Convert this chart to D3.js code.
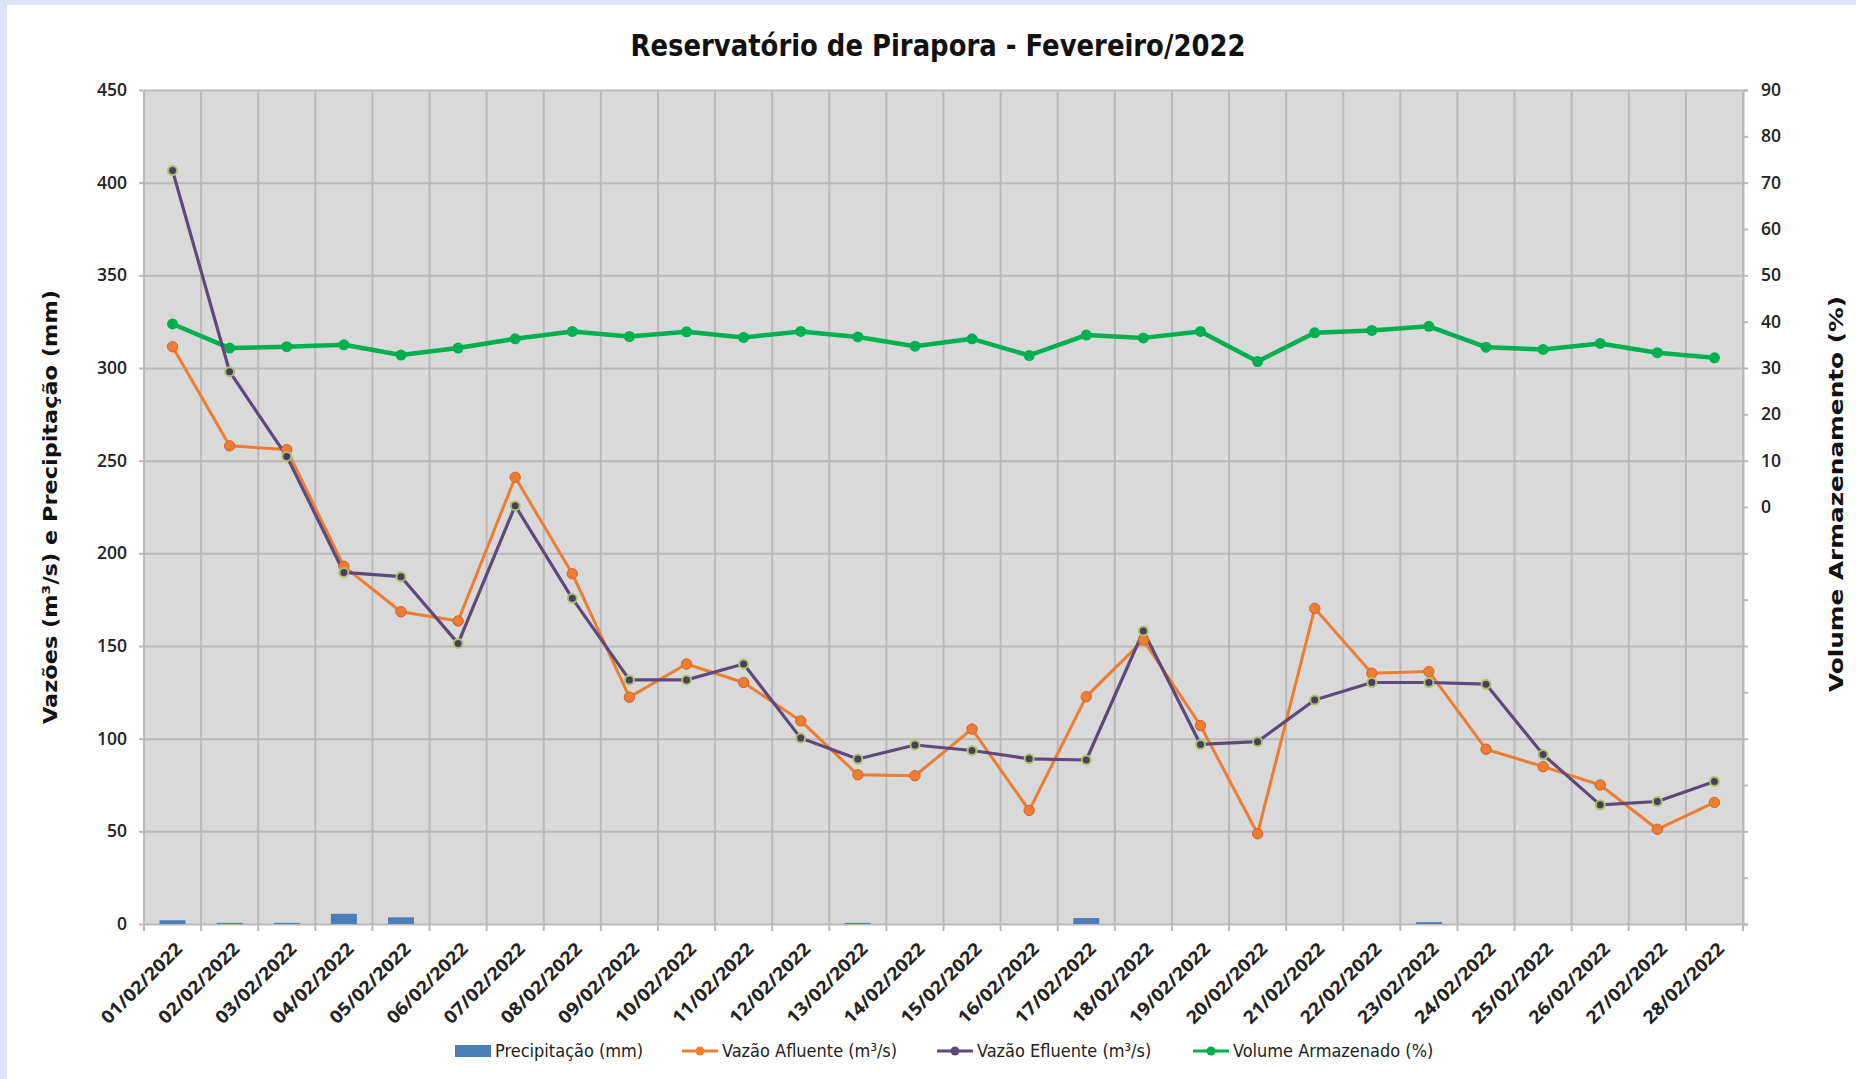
<!DOCTYPE html>
<html>
<head>
<meta charset="utf-8">
<script src="https://cdn.jsdelivr.net/npm/d3@7"></script>
<style>
  body { margin: 0; background: #fff; }
  svg { display: block; }
</style>
</head>
<body>
<svg id="chart"></svg>
<script>
// data
const dates = ["01/02/2022","02/02/2022","03/02/2022","04/02/2022","05/02/2022","06/02/2022","07/02/2022",
  "08/02/2022","09/02/2022","10/02/2022","11/02/2022","12/02/2022","13/02/2022","14/02/2022",
  "15/02/2022","16/02/2022","17/02/2022","18/02/2022","19/02/2022","20/02/2022","21/02/2022",
  "22/02/2022","23/02/2022","24/02/2022","25/02/2022","26/02/2022","27/02/2022","28/02/2022"];
const precipitacao = [2, 0.6, 0.6, 5.5, 3.6, 0, 0, 0, 0, 0, 0, 0, 0.6, 0, 0, 0, 3.2, 0, 0, 0, 0, 0, 1, 0, 0, 0, 0, 0];
const afluente = [311.5, 258, 256, 193, 168.5, 163.5, 241, 189, 122.4, 140.3, 130.3, 109.6, 80.5, 80,
  105.2, 61.3, 122.7, 153.2, 107.1, 48.7, 170.3, 135.3, 136.2, 94.3, 84.9, 75, 51.1, 65.6];
const efluente = [406.5, 298, 252.3, 189.7, 187.4, 151.4, 225.7, 175.7, 131.7, 131.7, 140.3, 100.3, 89, 96.6,
  93.6, 89.1, 88.5, 158.1, 96.9, 98.4, 120.9, 130.3, 130.3, 129.4, 91.4, 64.3, 66.1, 76.9];
const volume = [39.5, 34.3, 34.6, 35.0, 32.8, 34.3, 36.3, 37.9, 36.8, 37.8, 36.6, 37.9, 36.7, 34.7,
  36.3, 32.7, 37.1, 36.5, 37.9, 31.4, 37.6, 38.1, 39.0, 34.5, 34.0, 35.3, 33.3, 32.2];
const leftTicks = d3.range(0, 451, 50);
const rightTicks = d3.range(-90, 91, 10);

const W = 1856, H = 1079;
const m = { left: 144, right: 1743, top: 90, bottom: 924 };

const svg = d3.select("#chart").attr("width", W).attr("height", H);

// page frame
svg.append("rect").attr("width", W).attr("height", H).attr("fill", "#fff");
svg.append("rect").attr("width", W).attr("height", 5).attr("fill", "#dce2f8");
svg.append("rect").attr("width", 7).attr("height", H).attr("fill", "#dce2f8");

const x = d3.scaleBand().domain(dates).range([m.left, m.right]);
const yL = d3.scaleLinear().domain([0, 450]).range([m.bottom, m.top]);
const yR = d3.scaleLinear().domain([-90, 90]).range([m.bottom, m.top]);

const gridCol = "#b9b9b9";

// plot area
svg.append("rect")
  .attr("x", m.left).attr("y", m.top)
  .attr("width", m.right - m.left).attr("height", m.bottom - m.top)
  .attr("fill", "#d9d9d9");

// vertical grid on category boundaries
const edges = d3.range(dates.length + 1).map(i => m.left + i * x.step());
svg.append("g").selectAll("line").data(edges).join("line")
  .attr("x1", d => d).attr("x2", d => d)
  .attr("y1", m.top).attr("y2", m.bottom + 7)
  .attr("stroke", gridCol).attr("stroke-width", 2);

// left axis + horizontal grid
const gL = svg.append("g")
  .attr("transform", `translate(${m.left},0)`)
  .call(d3.axisLeft(yL).tickValues(leftTicks).tickSize(5).tickPadding(12));
gL.select(".domain").remove();
gL.selectAll(".tick line").clone()
  .attr("x2", m.right - m.left);
gL.selectAll(".tick line").attr("stroke", gridCol).attr("stroke-width", 2);
gL.selectAll("text")
  .attr("font-family", "'Open Sans', sans-serif").attr("font-weight", 600)
  .attr("font-size", 17.5).attr("fill", "#222");

// right axis
const gR = svg.append("g")
  .attr("transform", `translate(${m.right},0)`)
  .call(d3.axisRight(yR).tickValues(rightTicks).tickSize(5).tickPadding(13)
    .tickFormat(d => d >= 0 ? d : ""));
gR.select(".domain").attr("stroke", gridCol).attr("stroke-width", 2);
gR.selectAll(".tick line").attr("stroke", gridCol).attr("stroke-width", 2);
gR.selectAll("text")
  .attr("font-family", "'Open Sans', sans-serif").attr("font-weight", 600)
  .attr("font-size", 17.5).attr("fill", "#222");

// bottom axis labels
const gB = svg.append("g")
  .attr("transform", `translate(0,${m.bottom})`)
  .call(d3.axisBottom(x).tickSize(0));
gB.select(".domain").remove();
gB.selectAll("text")
  .attr("x", 0).attr("y", 0).attr("dy", 0)
  .attr("text-anchor", "end")
  .attr("transform", "translate(11,26) rotate(-45)")
  .attr("font-family", "'Open Sans', sans-serif").attr("font-weight", 700)
  .attr("font-size", 18)
  .attr("textLength", 106).attr("lengthAdjust", "spacingAndGlyphs")
  .attr("fill", "#222");

// precipitation bars
const bw = 26;
svg.append("g").selectAll("rect").data(precipitacao).join("rect")
  .attr("x", (d, i) => x(dates[i]) + x.bandwidth() / 2 - bw / 2)
  .attr("width", bw)
  .attr("y", d => yL(d))
  .attr("height", d => yL(0) - yL(d))
  .attr("fill", "#4a7ebb");

// lines
const lineL = d3.line().x((d, i) => x(dates[i]) + x.bandwidth() / 2).y(d => yL(d));
const lineR = d3.line().x((d, i) => x(dates[i]) + x.bandwidth() / 2).y(d => yR(d));

const orange = "#ed7d31", purple = "#5f497a", green = "#00b050";

svg.append("path").datum(volume).attr("d", lineR)
  .attr("fill", "none").attr("stroke", green).attr("stroke-width", 4.5).attr("stroke-linejoin", "round");
svg.append("g").selectAll("circle").data(volume).join("circle")
  .attr("cx", (d, i) => x(dates[i]) + x.bandwidth() / 2).attr("cy", d => yR(d))
  .attr("r", 5.5).attr("fill", green);

svg.append("path").datum(afluente).attr("d", lineL)
  .attr("fill", "none").attr("stroke", orange).attr("stroke-width", 3).attr("stroke-linejoin", "round");
svg.append("path").datum(efluente).attr("d", lineL)
  .attr("fill", "none").attr("stroke", purple).attr("stroke-width", 3.2).attr("stroke-linejoin", "round");

svg.append("g").selectAll("circle").data(afluente).join("circle")
  .attr("cx", (d, i) => x(dates[i]) + x.bandwidth() / 2).attr("cy", d => yL(d))
  .attr("r", 5.2).attr("fill", orange).attr("stroke", "#d8622a").attr("stroke-width", 1);
svg.append("g").selectAll("circle").data(efluente).join("circle")
  .attr("cx", (d, i) => x(dates[i]) + x.bandwidth() / 2).attr("cy", d => yL(d))
  .attr("r", 4.5).attr("fill", "#4b3d5f").attr("stroke", "#a9c46a").attr("stroke-width", 2);

// title
svg.append("text")
  .attr("x", 938).attr("y", 56)
  .attr("text-anchor", "middle")
  .attr("font-family", "'Liberation Sans Narrow', 'DejaVu Sans Condensed', sans-serif")
  .attr("font-weight", 700).attr("font-size", 31)
  .attr("textLength", 615).attr("lengthAdjust", "spacingAndGlyphs")
  .attr("fill", "#111")
  .text("Reservatório de Pirapora - Fevereiro/2022");

// axis titles
svg.append("text")
  .attr("transform", "translate(57,507) rotate(-90)")
  .attr("text-anchor", "middle")
  .attr("font-family", "'DejaVu Sans', sans-serif").attr("font-weight", 700).attr("font-size", 20)
  .attr("textLength", 434).attr("lengthAdjust", "spacingAndGlyphs")
  .attr("fill", "#111")
  .text("Vazões (m³/s) e Precipitação (mm)");
svg.append("text")
  .attr("transform", "translate(1843,494) rotate(-90)")
  .attr("text-anchor", "middle")
  .attr("font-family", "'DejaVu Sans', sans-serif").attr("font-weight", 700).attr("font-size", 20)
  .attr("textLength", 396).attr("lengthAdjust", "spacingAndGlyphs")
  .attr("fill", "#111")
  .text("Volume Armazenamento (%)");

// legend
const legendItems = [
  { label: "Precipitação (mm)", kind: "bar", color: "#4a7ebb", x: 455 },
  { label: "Vazão Afluente (m³/s)", kind: "line", color: orange, x: 682 },
  { label: "Vazão Efluente (m³/s)", kind: "line", color: purple, x: 937 },
  { label: "Volume Armazenado (%)", kind: "line", color: green, x: 1193 }
];
const ly = 1051;
const lg = svg.append("g").selectAll("g").data(legendItems).join("g")
  .attr("transform", d => `translate(${d.x},${ly})`);
lg.filter(d => d.kind === "bar").append("rect")
  .attr("x", 0).attr("y", -6).attr("width", 36).attr("height", 12).attr("fill", d => d.color);
lg.filter(d => d.kind === "line").append("line")
  .attr("x1", 0).attr("x2", 36).attr("stroke", d => d.color).attr("stroke-width", 3);
lg.filter(d => d.kind === "line").append("circle")
  .attr("cx", 18).attr("r", 4.5).attr("fill", d => d.color);
lg.append("text")
  .attr("x", 40).attr("dy", "0.35em")
  .attr("font-family", "'Liberation Sans Narrow', 'DejaVu Sans Condensed', sans-serif")
  .attr("font-size", 18).attr("fill", "#222")
  .text(d => d.label);
</script>
</body>
</html>
